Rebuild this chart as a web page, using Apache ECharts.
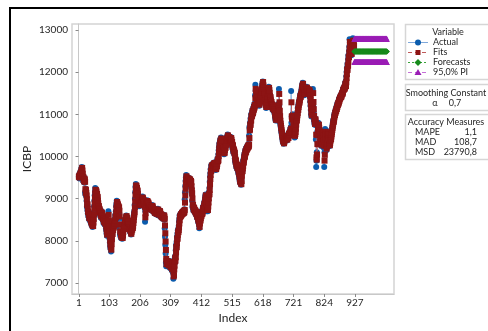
<!DOCTYPE html>
<html>
<head>
<meta charset="utf-8">
<script src="https://cdn.jsdelivr.net/npm/echarts@6/dist/echarts.min.js"></script>
<style>
  html, body { margin: 0; padding: 0; background: #fff; }
  #chart { width: 488px; height: 331px; }
</style>
</head>
<body>
<div id="chart"></div>
<script>
// ICBP index, observations 1..924
const actualICBP = [
  9520, 9560, 9480, 9590, 9610, 9540, 9650, 9620, 9700, 9680,
  9750, 9640, 9560, 9480, 9520, 9410, 9460, 9390, 9500, 9440,
  9380, 9150, 9100, 9230, 9110, 9050, 8950, 8800, 8870, 8720,
  8650, 8700, 8580, 8620, 8510, 8560, 8640, 8590, 8470, 8520,
  8430, 8480, 8390, 8450, 8360, 8410, 8330, 8350, 8470, 8560,
  8680, 8820, 8950, 9080, 9160, 9250, 9200, 9130, 9180, 9060,
  9120, 8990, 9050, 8920, 8860, 8780, 8830, 8740, 8690, 8760,
  8640, 8710, 8590, 8660, 8550, 8620, 8700, 8640, 8580, 8520,
  8600, 8480, 8540, 8420, 8500, 8560, 8470, 8380, 8450, 8520,
  8430, 8300, 8250, 8180, 8120, 8200, 8280, 8350, 8460, 8700,
  8420, 8290, 8180, 8050, 7960, 7880, 7820, 7900, 7750, 7980,
  8100, 8220, 8160, 8310, 8250, 8380, 8300, 8420, 8360, 8480,
  8400, 8520, 8610, 8550, 8700, 8820, 8880, 8950, 8900, 8830,
  8870, 8790, 8820, 8760, 8800, 8680, 8520, 8300, 8150, 8220,
  8100, 8180, 8060, 8140, 8210, 8080, 8050, 8160, 8240, 8310,
  8280, 8370, 8420, 8350, 8460, 8520, 8440, 8510, 8580, 8600,
  8530, 8470, 8540, 8420, 8480, 8390, 8450, 8470, 8360, 8300,
  8250, 8330, 8210, 8270, 8180, 8150, 8240, 8300, 8260, 8340,
  8300, 8380, 8450, 8520, 8600, 8650, 8700, 8850, 9000, 9150,
  9280, 9350, 9300, 9220, 9260, 9150, 9200, 9080, 9000, 8920,
  8850, 8900, 8820, 8870, 8940, 8880, 8920, 8860, 8950, 8900,
  8970, 9020, 8960, 9050, 9000, 8930, 8980, 8900, 8850, 8920,
  8860, 8780, 8450, 8700, 8850, 8900, 8940, 8880, 8920, 8960,
  8900, 8850, 8920, 8870, 8800, 8840, 8780, 8820, 8760, 8800,
  8740, 8790, 8830, 8760, 8720, 8800, 8850, 8780, 8740, 8700,
  8760, 8690, 8740, 8680, 8650, 8720, 8760, 8700, 8660, 8640,
  8700, 8680, 8620, 8660, 8720, 8760, 8700, 8650, 8600, 8640,
  8690, 8720, 8660, 8610, 8580, 8640, 8600, 8550, 8620, 8580,
  8540, 8600, 8560, 8520, 8580, 8620, 8560, 8500, 8300, 8100,
  7900, 7700, 7480, 7400, 7550, 7500, 7420, 7480, 7530, 7450,
  7400, 7470, 7520, 7380, 7440, 7500, 7420, 7350, 7460, 7510,
  7430, 7380, 7300, 7420, 7480, 7350, 7250, 7100, 7200, 7380,
  7450, 7560, 7620, 7500, 7650, 7780, 7900, 7850, 7980, 8100,
  8050, 8180, 8250, 8200, 8280, 8350, 8450, 8520, 8600, 8560,
  8620, 8580, 8650, 8600, 8640, 8680, 8620, 8660, 8700, 8640,
  8680, 8720, 8650, 8700, 8750, 8980, 9150, 9300, 9420, 9500,
  9560, 9480, 9420, 9500, 9450, 9380, 9440, 9500, 9460, 9400,
  9350, 9420, 9480, 9400, 9320, 9450, 9380, 9250, 9150, 9100,
  8950, 8800, 8850, 8780, 8720, 8800, 8760, 8700, 8740, 8680,
  8720, 8650, 8700, 8620, 8680, 8600, 8550, 8620, 8580, 8500,
  8460, 8520, 8420, 8380, 8300, 8450, 8520, 8480, 8560, 8620,
  8580, 8650, 8700, 8620, 8680, 8750, 8800, 8720, 8780, 8850,
  8900, 8820, 8950, 9000, 9050, 9100, 8950, 8850, 8780, 8700,
  8760, 8820, 8700, 8850, 8950, 9050, 9150, 9100, 9250, 9400,
  9520, 9600, 9700, 9650, 9780, 9800, 9720, 9760, 9820, 9780,
  9740, 9800, 9850, 9780, 9820, 9860, 9780, 9700, 9750, 9680,
  9720, 9800, 9760, 9850, 9900, 9950, 9880, 9920, 10050, 10150,
  10220, 10300, 10250, 10350, 10400, 10320, 10380, 10450, 10400, 10300,
  10200, 10250, 10150, 10100, 10180, 10220, 10120, 10050, 10100, 10180,
  10240, 10200, 10300, 10350, 10280, 10400, 10450, 10380, 10480, 10520,
  10450, 10400, 10480, 10420, 10350, 10400, 10450, 10380, 10320, 10400,
  10460, 10380, 10300, 10350, 10250, 10200, 10280, 10150, 10100, 10180,
  10120, 10050, 10100, 9950, 9900, 9850, 9920, 9800, 9750, 9820,
  9780, 9700, 9750, 9800, 9650, 9600, 9680, 9550, 9500, 9450,
  9400, 9380, 9450, 9350, 9330, 9450, 9600, 9700, 9650, 9750,
  9800, 9900, 9850, 9950, 10000, 10050, 9980, 10100, 10150, 10080,
  10120, 10200, 10150, 10220, 10180, 10250, 10200, 10280, 10220, 10250,
  10300, 10500, 10700, 10650, 10800, 10750, 10900, 10850, 11000, 10950,
  10980, 11050, 11100, 11000, 11080, 11150, 11100, 11200, 11150, 11250,
  11200, 11450, 11700, 11550, 11400, 11350, 11450, 11300, 11380, 11420,
  11400, 11300, 11250, 11350, 11280, 11200, 11300, 11350, 11450, 11500,
  11420, 11550, 11600, 11500, 11650, 11700, 11750, 11780, 11650, 11600,
  11550, 11480, 11500, 11450, 11350, 11300, 11250, 11200, 11150, 11250,
  11300, 11400, 11350, 11450, 11550, 11500, 11600, 11650, 11550, 11480,
  11400, 11350, 11420, 11300, 11250, 11300, 11200, 11150, 11250, 11200,
  11100, 11180, 11220, 11150, 11080, 11120, 11050, 11000, 10950, 10900,
  10850, 10920, 10880, 10950, 11000, 10900, 10850, 10950, 11050, 11150,
  11250, 11600, 11200, 11000, 10900, 10800, 10750, 10700, 10650, 10600,
  10550, 10500, 10450, 10400, 10350, 10400, 10320, 10300, 10350, 10400,
  10450, 10380, 10420, 10480, 10400, 10450, 10500, 10420, 10380, 10450,
  10500, 10480, 10420, 10520, 10550, 10500, 10580, 10500, 10600, 10650,
  10550, 10700, 11550, 10800, 10950, 10850, 10900, 11000, 10900, 10750,
  10650, 10550, 10500, 10600, 10450, 10550, 10600, 10700, 10800, 10900,
  10850, 10950, 11000, 11050, 11150, 11100, 11200, 11250, 11300, 11280,
  11350, 11400, 11450, 11400, 11500, 11450, 11550, 11600, 11650, 11700,
  11650, 11750, 11600, 11550, 11500, 11580, 11450, 11500, 11550, 11600,
  11580, 11620, 11550, 11600, 11650, 11580, 11500, 11550, 11600, 11520,
  11480, 11550, 11600, 11500, 11550, 11400, 11300, 11200, 11100, 11000,
  10950, 11050, 11150, 11250, 11300, 11600, 11200, 11050, 10900, 10850,
  10800, 10750, 10850, 10900, 10750, 10400, 9750, 9900, 10100, 10400,
  10600, 10700, 10650, 10800, 10750, 10650, 10600, 10550, 10500, 10400,
  10350, 10450, 10300, 10250, 10400, 10450, 10550, 10500, 10600, 10450,
  10400, 10350, 10200, 9750, 10100, 10600, 10650, 10500, 10400, 10200,
  10150, 10250, 10350, 10450, 10550, 10600, 10500, 10400, 10350, 10250,
  10300, 10250, 10350, 10400, 10450, 10400, 10500, 10550, 10600, 10650,
  10700, 10750, 10800, 10850, 10820, 10900, 10950, 11000, 10980, 11050,
  11050, 11100, 11080, 11150, 11120, 11200, 11180, 11250, 11220, 11280,
  11250, 11300, 11350, 11320, 11380, 11400, 11380, 11420, 11450, 11400,
  11450, 11480, 11500, 11520, 11480, 11550, 11600, 11580, 11620, 11600,
  11650, 11600, 11680, 11750, 11700, 11650, 11800, 11900, 12000, 12100,
  12050, 12200, 12150, 12300, 12400, 12350, 12500, 12600, 12780, 12700,
  12650, 12550, 12450, 12500, 12400, 12550, 12650, 12700, 12600, 12800,
  12700, 12650, 12600, 12550
];

// Single exponential smoothing settings and forecast horizon
const smoothingAlpha = 0.7;
const forecastFirstIndex = 925;
const forecastLastIndex = 1034;
const forecastLevel = 12490;
const piUpper = 12790;
const piLower = 12240;

// Axis tick labels
const xTickLabels = [1, 103, 206, 309, 412, 515, 618, 721, 824, 927];
const yTickLabels = [7000, 8000, 9000, 10000, 11000, 12000, 13000];

// Accuracy measures
const accuracyNames = ['MAPE', 'MAD', 'MSD'];
const accuracyValues = ['1,1', '108,7', '23790,8'];

// Fits: one-step-ahead smoothed values (S_t = a*Y_t + (1-a)*S_{t-1})
const actualPts = actualICBP.map((v, i) => [i + 1, v]);
const fitsPts = [];
let level = actualICBP[0];
for (let i = 0; i < actualICBP.length; i++) {
  fitsPts.push([i + 1, Math.round(level)]);
  level = smoothingAlpha * actualICBP[i] + (1 - smoothingAlpha) * level;
}
const forecastPts = [], upperPts = [], lowerPts = [];
for (let t = forecastFirstIndex; t <= forecastLastIndex; t++) {
  forecastPts.push([t, forecastLevel]);
  upperPts.push([t, piUpper]);
  lowerPts.push([t, piLower]);
}

const FONT = 'Lato, "Noto Sans", sans-serif';
const TXT = '#262626';
const BOX = '#d6d6d6';
const cBlue = '#0b5cad', cRed = '#8c1414', cGreen = '#178a1c', cPurple = '#9a1db5';
const LF = '9px ' + FONT;

const chart = echarts.init(document.getElementById('chart'), null, { renderer: 'canvas' });

// Legend / info panels drawn as graphic elements
function legendRow(y, color, lineColor, dash, symbol, label) {
  const items = [
    { type: 'line', shape: { x1: 408, y1: y, x2: 428, y2: y },
      style: { stroke: lineColor, lineWidth: 1, lineDash: dash } }
  ];
  let marker;
  if (symbol === 'circle') marker = { type: 'circle', shape: { cx: 418, cy: y, r: 3 }, style: { fill: color } };
  else if (symbol === 'rect') marker = { type: 'rect', shape: { x: 415.5, y: y - 2.5, width: 5, height: 5 }, style: { fill: color } };
  else if (symbol === 'diamond') marker = { type: 'polygon', shape: { points: [[418, y - 3.5], [421.5, y], [418, y + 3.5], [414.5, y]] }, style: { fill: color } };
  else marker = { type: 'polygon', shape: { points: [[418, y - 3.5], [421.5, y + 2.5], [414.5, y + 2.5]] }, style: { fill: color } };
  items.push(marker);
  items.push({ type: 'text', style: { x: 433, y: y, text: label, font: LF, fill: TXT, verticalAlign: 'middle' } });
  return items;
}

const graphics = [
  // outer frame
  { type: 'rect', shape: { x: 10, y: 8, width: 600, height: 600 }, style: { fill: null, stroke: '#000', lineWidth: 2 }, z: 100 },
  // Variable panel
  { type: 'rect', shape: { x: 405.5, y: 24.5, width: 100, height: 55 }, style: { fill: '#fff', stroke: BOX, lineWidth: 1.5 } },
  { type: 'text', style: { x: 448, y: 32.5, text: 'Variable', font: LF, fill: TXT, align: 'center', verticalAlign: 'middle' } },
  ...legendRow(42.5, cBlue, '#7fa8da', null, 'circle', 'Actual'),
  ...legendRow(52.5, cRed, '#c05a5a', [4, 3], 'rect', 'Fits'),
  ...legendRow(62.5, cGreen, '#3aa23a', [2, 2], 'diamond', 'Forecasts'),
  ...legendRow(72.5, cPurple, '#c46fd6', [4, 3], 'triangle', '95,0% PI'),
  // Smoothing constant panel
  { type: 'rect', shape: { x: 405.5, y: 84.5, width: 100, height: 26 }, style: { fill: '#fff', stroke: BOX, lineWidth: 1.5 } },
  { type: 'text', style: { x: 446, y: 93, text: 'Smoothing Constant', font: LF, fill: TXT, align: 'center', verticalAlign: 'middle' } },
  { type: 'text', style: { x: 435, y: 103, text: 'α', font: LF, fill: TXT, align: 'center', verticalAlign: 'middle' } },
  { type: 'text', style: { x: 455, y: 103, text: String(smoothingAlpha).replace('.', ','), font: LF, fill: TXT, align: 'center', verticalAlign: 'middle' } },
  // Accuracy panel
  { type: 'rect', shape: { x: 405.5, y: 114.5, width: 100, height: 45 }, style: { fill: '#fff', stroke: BOX, lineWidth: 1.5 } },
  { type: 'text', style: { x: 446, y: 122.5, text: 'Accuracy Measures', font: LF, fill: TXT, align: 'center', verticalAlign: 'middle' } }
];
accuracyNames.forEach((n, k) => {
  const y = 132.5 + k * 10;
  graphics.push({ type: 'text', style: { x: 415, y: y, text: n, font: LF, fill: TXT, verticalAlign: 'middle' } });
  graphics.push({ type: 'text', style: { x: 477, y: y, text: accuracyValues[k], font: LF, fill: TXT, align: 'right', verticalAlign: 'middle' } });
});

const axisCommon = {
  axisLine: { show: true, lineStyle: { color: '#c8c8c8', width: 1 } },
  splitLine: { show: false },
  nameMoveOverlap: false,
  nameTextStyle: { color: TXT, fontFamily: FONT, fontSize: 12 }
};

chart.setOption({
  animation: false,
  backgroundColor: '#fff',
  grid: { left: 72, top: 24, right: 94, bottom: 37, show: true, borderColor: '#d4d4d4', borderWidth: 1.5 },
  xAxis: Object.assign({}, axisCommon, {
    type: 'value', min: -22, max: 1058,
    name: 'Index', nameLocation: 'middle', nameGap: 18,
    axisTick: { show: true, length: 3, lineStyle: { color: '#8a8a8a' }, customValues: xTickLabels },
    axisLabel: { customValues: xTickLabels, formatter: v => String(v), color: TXT, fontFamily: FONT, fontSize: 10, margin: 4 }
  }),
  yAxis: Object.assign({}, axisCommon, {
    type: 'value', min: 6740, max: 13140,
    name: 'ICBP', nameLocation: 'middle', nameGap: 39, nameRotate: 90,
    axisTick: { show: true, length: 3, lineStyle: { color: '#8a8a8a' }, customValues: yTickLabels },
    axisLabel: { customValues: yTickLabels, formatter: v => String(v), color: TXT, fontFamily: FONT, fontSize: 10, margin: 4 }
  }),
  series: [
    { name: 'Actual', type: 'line', data: actualPts, symbol: 'circle', symbolSize: 6,
      itemStyle: { color: cBlue }, lineStyle: { color: '#8db2e0', width: 1 }, z: 2 },
    { name: 'Fits', type: 'line', data: fitsPts, symbol: 'rect', symbolSize: 6,
      itemStyle: { color: cRed }, lineStyle: { color: '#c05a5a', width: 1, type: 'dashed' }, z: 3 },
    { name: 'Forecasts', type: 'line', data: forecastPts, symbol: 'diamond', symbolSize: 6,
      itemStyle: { color: cGreen }, lineStyle: { color: cGreen, width: 1, type: 'dashed' }, z: 4 },
    { name: 'Upper', type: 'line', data: upperPts, symbol: 'triangle', symbolSize: 6,
      itemStyle: { color: cPurple }, lineStyle: { color: cPurple, width: 1, type: 'dashed' }, z: 4 },
    { name: 'Lower', type: 'line', data: lowerPts, symbol: 'triangle', symbolSize: 6,
      itemStyle: { color: cPurple }, lineStyle: { color: cPurple, width: 1, type: 'dashed' }, z: 4 }
  ],
  graphic: graphics
});
</script>
</body>
</html>
